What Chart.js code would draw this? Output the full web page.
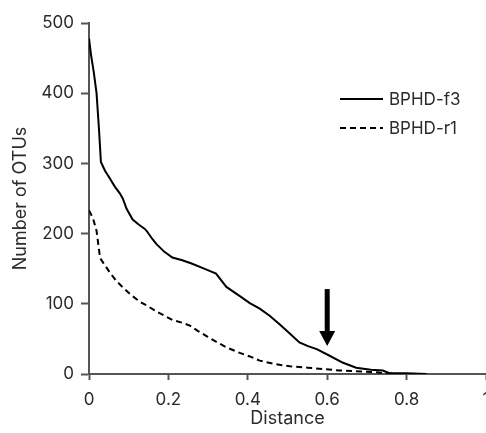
<!DOCTYPE html>
<html>
<head>
<meta charset="utf-8">
<script src="https://cdn.jsdelivr.net/npm/chart.js@4.4.1/dist/chart.umd.min.js"></script>
<style>
  html, body { margin: 0; padding: 0; overflow: hidden; background: #fff; width: 486px; height: 433px; }
  canvas { display: block; }
</style>
</head>
<body>
<canvas id="c" width="500" height="433"></canvas>
<script>
// ---- data ----
const seriesNames = ["BPHD-f3", "BPHD-r1"];
const f3Distance = [0, 0.005, 0.012, 0.019, 0.025, 0.03, 0.04, 0.053, 0.065, 0.078, 0.085, 0.095, 0.11, 0.125, 0.14, 0.145, 0.16, 0.17, 0.19, 0.21, 0.235, 0.26, 0.29, 0.32, 0.346, 0.38, 0.405, 0.43, 0.455, 0.48, 0.505, 0.53, 0.55, 0.575, 0.606, 0.64, 0.673, 0.71, 0.74, 0.757, 0.8, 0.85];
const f3OTUs     = [478, 455, 430, 400, 350, 302, 290, 278, 267, 257, 250, 235, 220, 213, 207, 204, 192, 185, 174, 166, 162, 157, 150, 143, 124, 111, 101, 93, 83, 71, 58, 45, 40, 35, 26, 16, 9, 6, 5, 1, 1, 0];
const r1Distance = [0, 0.01, 0.019, 0.028, 0.04, 0.053, 0.07, 0.086, 0.105, 0.128, 0.15, 0.17, 0.19, 0.21, 0.235, 0.254, 0.275, 0.296, 0.32, 0.346, 0.38, 0.405, 0.43, 0.47, 0.506, 0.55, 0.59, 0.63, 0.67, 0.71, 0.75, 0.78];
const r1OTUs     = [233, 222, 204, 165, 155, 144, 132, 123, 113, 103, 96, 89, 83, 77, 73, 69, 61, 54, 46, 38, 30, 25, 19, 14, 11, 9, 7, 5, 4, 3, 1, 0];
const xTicks = [0, 0.2, 0.4, 0.6, 0.8, 1];
const yTicks = [0, 100, 200, 300, 400, 500];
const arrowMark = { x: 0.6, from: 121, to: 40 };

const toPoints = (xs, ys) => xs.map((x, i) => ({ x: x, y: ys[i] }));

const FONT = "Inter, 'DejaVu Sans', sans-serif";
const TXT = "#2b2b2b";
const AX = "#555555";

const arrowPlugin = {
  id: 'arrowMark',
  afterDatasetsDraw(chart) {
    const ctx = chart.ctx;
    const xs = chart.scales.x, ys = chart.scales.y;
    const px = xs.getPixelForValue(arrowMark.x);
    const y0 = ys.getPixelForValue(arrowMark.from);
    const y1 = ys.getPixelForValue(arrowMark.to);
    const headLen = 15, headW = 8;
    ctx.save();
    ctx.fillStyle = '#000';
    ctx.fillRect(px - 2.5, y0, 5, (y1 - headLen) - y0 + 1);
    ctx.beginPath();
    ctx.moveTo(px - headW, y1 - headLen);
    ctx.lineTo(px + headW, y1 - headLen);
    ctx.lineTo(px, y1);
    ctx.closePath();
    ctx.fill();
    ctx.restore();
  }
};

const legendPlugin = {
  id: 'customLegend',
  afterDraw(chart) {
    const ctx = chart.ctx;
    const a = chart.chartArea;
    const x0 = a.left + 251, x1 = a.left + 294, tx = a.left + 300;
    const rows = [a.top + 76, a.top + 105];
    ctx.save();
    chart.data.datasets.forEach((ds, i) => {
      const y = rows[i];
      ctx.strokeStyle = ds.borderColor;
      ctx.lineWidth = 2;
      ctx.setLineDash(ds.borderDash || []);
      ctx.beginPath();
      ctx.moveTo(x0, y);
      ctx.lineTo(x1, y);
      ctx.stroke();
      ctx.setLineDash([]);
      ctx.fillStyle = TXT;
      ctx.font = "17px " + FONT;
      ctx.textBaseline = 'middle';
      ctx.textAlign = 'left';
      ctx.fillText(ds.label, tx, y + 1);
    });
    ctx.restore();
  }
};

new Chart(document.getElementById('c'), {
  type: 'scatter',
  data: {
    datasets: [
      {
        label: seriesNames[0],
        data: toPoints(f3Distance, f3OTUs),
        showLine: true,
        borderColor: '#000',
        borderWidth: 2,
        pointRadius: 0,
        tension: 0,
        fill: false
      },
      {
        label: seriesNames[1],
        data: toPoints(r1Distance, r1OTUs),
        showLine: true,
        borderColor: '#000',
        borderWidth: 2,
        borderDash: [6, 4],
        pointRadius: 0,
        tension: 0,
        fill: false
      }
    ]
  },
  options: {
    responsive: false,
    animation: false,
    devicePixelRatio: 1,
    layout: { padding: { top: 23, right: 14, left: 0, bottom: 0 } },
    plugins: { legend: { display: false }, tooltip: { enabled: false } },
    scales: {
      x: {
        type: 'linear',
        min: 0, max: 1,
        afterBuildTicks(scale) { scale.ticks = xTicks.map(v => ({ value: v })); },
        afterFit(scale) { scale.height = 59; },
        border: { display: true, color: AX, width: 2 },
        grid: { display: true, drawOnChartArea: false, drawTicks: true, tickLength: 6, tickWidth: 2, tickColor: AX },
        ticks: {
          color: TXT, font: { family: FONT, size: 17 }, padding: 10, maxRotation: 0,
          callback: v => String(v)
        },
        title: { display: true, text: 'Distance', color: TXT, font: { family: FONT, size: 18 }, padding: { top: 0, bottom: 4 } }
      },
      y: {
        type: 'linear',
        min: 0, max: 500,
        afterBuildTicks(scale) { scale.ticks = yTicks.map(v => ({ value: v })); },
        afterFit(scale) { scale.width = 89; },
        border: { display: true, color: AX, width: 2 },
        grid: { display: true, drawOnChartArea: false, drawTicks: true, tickLength: 8, tickWidth: 2, tickColor: AX },
        ticks: { color: TXT, font: { family: FONT, size: 17 }, padding: 7, callback: v => String(v) },
        title: { display: true, text: 'Number of OTUs', color: TXT, font: { family: FONT, size: 18 }, padding: { top: 10, bottom: 0 } }
      }
    }
  },
  plugins: [arrowPlugin, legendPlugin]
});
</script>
</body>
</html>
